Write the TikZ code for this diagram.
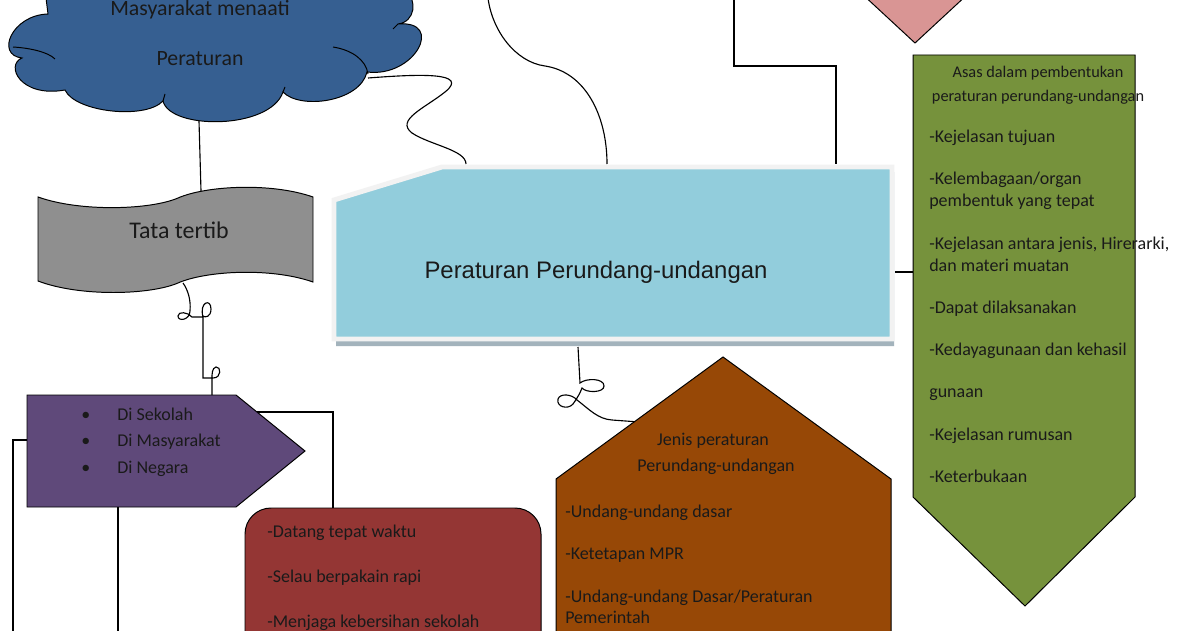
\documentclass[tikz,border=0pt]{standalone}
\usepackage{fontspec}
\setmainfont{Carlito}
\newfontfamily\arialfont{Liberation Sans}
\usetikzlibrary{positioning,calc}
\definecolor{CloudBlue}{HTML}{365F91}
\definecolor{TapeGray}{HTML}{8F8F8F}
\definecolor{Plum}{HTML}{5F497A}
\definecolor{Brick}{HTML}{943634}
\definecolor{SkyBlue}{HTML}{92CDDC}
\definecolor{Frame}{HTML}{F2F2F2}
\definecolor{Shade}{HTML}{A3B3BC}
\definecolor{Rust}{HTML}{974806}
\definecolor{Olive}{HTML}{76923C}
\definecolor{Rose}{HTML}{D99594}
\definecolor{Ink}{HTML}{1A1A1A}

\begin{document}
\begin{tikzpicture}[x=0.025cm,y=-0.025cm,every node/.style={text=Ink,inner sep=0pt},boxline/.style={draw=black,line width=0.7pt},wire/.style={draw=black,line width=0.8pt},itemtext/.style={anchor=west,font=\fontsize{12.8}{15}\selectfont,text height=9pt,text depth=3pt},headtext/.style={anchor=center,font=\fontsize{12.8}{15}\selectfont,text height=9pt,text depth=3pt},smallhead/.style={headtext,font=\fontsize{11.6}{14}\selectfont}]
\useasboundingbox (0,0) rectangle (1200,630);
\clip (0,0) rectangle (1200,630);
\fill[white] (0,0) rectangle (1200,630);
\path[boxline,fill=CloudBlue] (45,-10) -- (48,14) .. controls (12,15) and (-5,55) .. (22,58) .. controls (5,65) and (20,98) .. (65,90) .. controls (75,112) and (145,120) .. (163,101) .. controls (170,130) and (270,130) .. (283,92) .. controls (300,110) and (360,102) .. (367,72) .. controls (415,78) and (445,20) .. (398,24) .. controls (415,22) and (418,0) .. (405,-10) -- cycle;
\draw[boxline] (13,47) .. controls (30,48) and (48,52) .. (55,59) (333,47) .. controls (352,50) and (366,60) .. (368,74) (393,29) -- (398,24) (163,101) -- (165,94) (283,92) -- (285,87);
\node[font=\fontsize{15.5}{35}\selectfont,align=center] (cloudtext) at (200,33) {Masyarakat menaati\\Peraturan};
\path[boxline,fill=TapeGray] (38,197) .. controls (80,212) and (150,210) .. (178,198) .. controls (205,186) and (270,182) .. (313,197) -- (313,282) .. controls (270,267) and (205,271) .. (178,283) .. controls (150,295) and (80,297) .. (38,281) -- cycle;
\node[font=\fontsize{17}{20}\selectfont] (tata) at (179,230) {Tata tertib};
\coordinate (cloudbot) at (199,121);\coordinate (tatatop) at (201,191);\coordinate (tatabot) at (183,283);
\path[boxline,fill=Plum] (27,395) -- (236,395) -- (305,451) -- (236,507) -- (27,507) -- cycle;
\coordinate (purtop) at (212,395);\coordinate (purleft) at (27,440);\coordinate (purbot) at (118,507);\coordinate (purslant) at (257,412);
\foreach \t [count=\i] in {Di Sekolah,Di Masyarakat,Di Negara} \node[itemtext] (pur\i) at (81,{416+26.5*(\i-1)}) {\makebox[25.6pt][l]{\textbullet}\t};
\path[boxline,fill=Brick,rounded corners=0.65cm] (245,508) rectangle (541,690);
\coordinate (redtop) at (333,508);
\foreach \t [count=\i] in {-Datang tepat waktu,-Selau berpakain rapi,-Menjaga kebersihan sekolah} \node[itemtext] (red\i) at (267,{533+45*(\i-1)}) {\t};
\path[fill=Shade] (336,205) -- (443,172) -- (894,172) -- (894,346) -- (336,346) -- cycle;
\path[fill=SkyBlue,draw=Frame,line width=3.5pt] (334,200) -- (442,167) -- (892,167) -- (892,339) -- (334,339) -- cycle;
\node[font=\arialfont\fontsize{17}{20}\selectfont] (main) at (596,272) {Peraturan Perundang-undangan};
\coordinate (blue1) at (466,164);\coordinate (blue2) at (607,164);\coordinate (blue3) at (836,164);\coordinate (blueright) at (895,272);\coordinate (bluebot) at (578,347);
\path[boxline,fill=Rose] (915,43) -- (983,-20) -- (915,-83) -- (847,-20) -- cycle;
\path[boxline,fill=Olive] (913,55) -- (1135,55) -- (1135,497) -- (1025,606) -- (913,497) -- cycle;
\coordinate (greenleft) at (913,272);
\node[smallhead] (asas1) at (1038,73) {Asas dalam pembentukan};\node[smallhead] (asas2) at (1038,97) {peraturan perundang-undangan};
\foreach \y/\t [count=\i] in {138/{-Kejelasan tujuan},180/{-Kelembagaan/organ},202/{pembentuk yang tepat},245/{-Kejelasan antara jenis, Hirerarki,},267/{dan materi muatan},309/{-Dapat dilaksanakan},351/{-Kedayagunaan dan kehasil},393/{gunaan},436/{-Kejelasan rumusan},478/{-Keterbukaan}} \node[itemtext] (asasitem\i) at (929,\y) {\t};
\coordinate (brownL) at (556,479);\coordinate (brownTop) at (723,357);
\path[boxline,fill=Rust] (brownL) -- (brownTop) -- (891,479) -- (891,690) -- (556,690) -- cycle;
\coordinate (brownedge) at ($(brownL)!0.47!(brownTop)$);
\node[headtext] (jenis1) at (713,441) {Jenis peraturan};\node[headtext] (jenis2) at (716,467) {Perundang-undangan};
\foreach \y/\t [count=\i] in {513/{-Undang-undang dasar},555/{-Ketetapan MPR},598/{-Undang-undang Dasar/Peraturan},619/{Pemerintah}} \node[itemtext] (jenisitem\i) at (565,\y) {\t};
\coordinate (cloudright) at (368,78);\coordinate (topcurve) at (488,-2);\coordinate (topline) at (734,-2);\coordinate (leftend) at (13,640);\coordinate (bottomend) at (118,640);
\draw[wire] (cloudbot) -- (tatatop);
\draw[wire] (tatabot) .. controls (188,290) and (191,300) .. (190,311) .. controls (190,320) and (178,322) .. (178,316) .. controls (178,311) and (188,312) .. (192,317) -- (203,317) .. controls (199,302) and (211,298) .. (211,309) .. controls (211,317) and (205,318) .. (203,316) -- (203,378) -- (213,378) .. controls (222,378) and (221,366) .. (216,367) .. controls (212,368) and (212,374) .. (212,378) -- (purtop);
\draw[wire] (purleft) -| (leftend);
\draw[wire] (purbot) -- (bottomend);
\draw[wire] (purslant) -| (redtop);
\draw[wire] (cloudright) .. controls (420,74) and (470,72) .. (445,92) .. controls (425,108) and (395,120) .. (412,133) .. controls (430,145) and (466,150) .. (blue1);
\draw[wire] (topcurve) .. controls (492,30) and (515,62) .. (545,66) .. controls (585,72) and (607,115) .. (blue2);
\draw[wire] (topline) -- (734,66) -| (blue3);
\draw[wire] (blueright) -- (greenleft);
\draw[wire] (bluebot) -- (580,383) .. controls (586,378) and (604,378) .. (604,386) .. controls (604,393) and (586,393) .. (582,388) .. controls (580,393) and (578,397) .. (573,404) .. controls (568,410) and (556,407) .. (558,399) .. controls (560,393) and (572,394) .. (577,400) .. controls (590,410) and (598,419) .. (612,420) -- (brownedge);
\end{tikzpicture}
\end{document}
